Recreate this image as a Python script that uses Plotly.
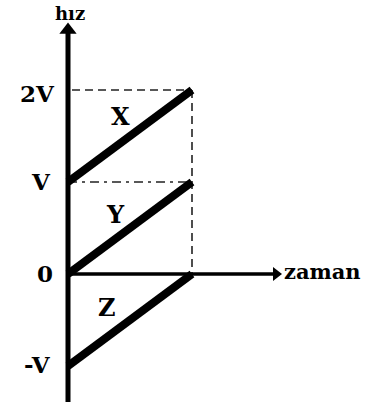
import plotly.graph_objects as go

# Data
times = [0, 1]
series_names = ["X", "Y", "Z"]
series_X = [1, 2]
series_Y = [0, 1]
series_Z = [-1, 0]
tick_vals = [2, 1, 0, -1]
tick_labels = ["2V", "V", "0", "-V"]
x_title = "zaman"
y_title = "hız"

W, H = 366, 408
X0, XS = 68, 124   # pixel of t=0, pixels per unit t
Y0, YS = 274, 92   # pixel of v=0, pixels per unit v

def tx(px):
    return (px - X0) / XS

def ty(py):
    return (Y0 - py) / YS

FONT = "DejaVu Serif"
fig = go.Figure()

# guide lines
fig.add_trace(go.Scatter(x=[tx(72), times[1]], y=[series_X[1], series_X[1]], mode="lines",
                         line=dict(color="#222", width=1.6, dash="8px,5px"), hoverinfo="skip"))
fig.add_trace(go.Scatter(x=[times[1], times[1]], y=[series_X[1], 0], mode="lines",
                         line=dict(color="#222", width=1.6, dash="8px,5px"), hoverinfo="skip"))
fig.add_trace(go.Scatter(x=[times[0], times[1]], y=[series_Y[1], series_Y[1]], mode="lines",
                         line=dict(color="#222", width=1.6, dash="9px,5px,3px,5px"), hoverinfo="skip"))

# axes
fig.add_trace(go.Scatter(x=[0, 0], y=[ty(402), ty(30)], mode="lines",
                         line=dict(color="black", width=5), hoverinfo="skip"))
fig.add_trace(go.Scatter(x=[0], y=[ty(30)], mode="markers",
                         marker=dict(symbol="triangle-up", size=15, color="black"), hoverinfo="skip"))
fig.add_trace(go.Scatter(x=[0, tx(276)], y=[0, 0], mode="lines",
                         line=dict(color="black", width=3.5), hoverinfo="skip"))
fig.add_trace(go.Scatter(x=[tx(276)], y=[0], mode="markers",
                         marker=dict(symbol="triangle-right", size=12, color="black"), hoverinfo="skip"))

# series
for name, vals in zip(series_names, [series_X, series_Y, series_Z]):
    fig.add_trace(go.Scatter(x=times, y=vals, mode="lines", name=name,
                             line=dict(color="black", width=8), hoverinfo="skip"))

annots = []
def label(text, px, py, size=23, xanchor="center"):
    annots.append(dict(x=tx(px), y=ty(py), text="<b>%s</b>" % text, showarrow=False,
                       xanchor=xanchor, yanchor="middle",
                       font=dict(family=FONT, size=size, color="black")))

label(y_title, 70, 13, size=18)
label(x_title, 282, 271, size=21, xanchor="left")
tick_px = {2: (37, 93), 1: (41, 181), 0: (45, 273), -1: (37, 364)}
for v, t in zip(tick_vals, tick_labels):
    label(t, *tick_px[v])
series_px = {"X": (120, 116), "Y": (115, 214), "Z": (107, 307)}
for n in series_names:
    label(n, *series_px[n], size=24)

fig.update_layout(
    width=W, height=H, margin=dict(l=0, r=0, t=0, b=0),
    paper_bgcolor="white", plot_bgcolor="white", showlegend=False,
    annotations=annots,
    xaxis=dict(range=[tx(0), tx(W)], visible=False, fixedrange=True),
    yaxis=dict(range=[ty(H), ty(0)], visible=False, fixedrange=True),
)
fig.write_html("out.html", config={"displayModeBar": False},
               post_script="document.body.style.margin='0';document.body.style.overflow='hidden';")
